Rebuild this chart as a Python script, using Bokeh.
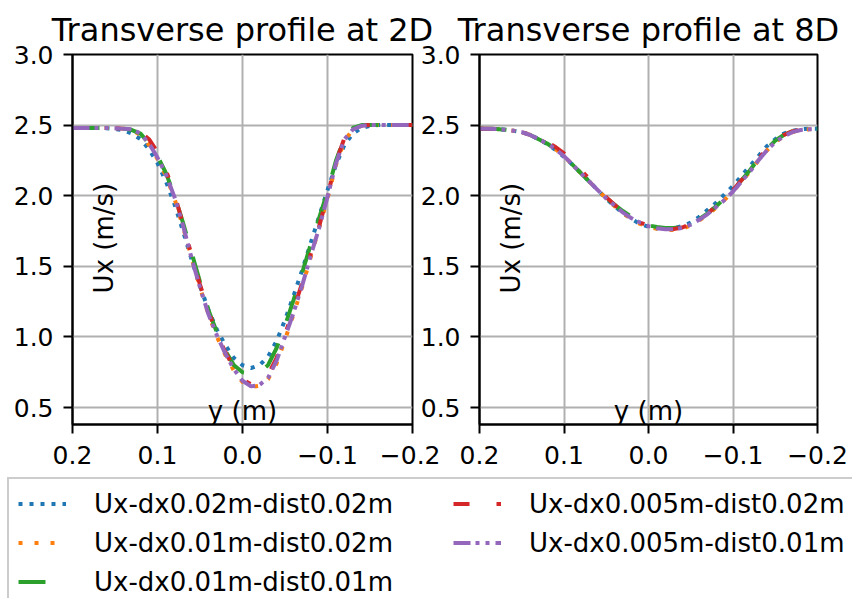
import math
from bokeh.plotting import figure
from bokeh.layouts import column, row
from bokeh.models import (Range1d, FixedTicker, Label, Legend, LegendItem,
                          NumeralTickFormatter)
from bokeh.embed import file_html
from bokeh.resources import INLINE

# ---------------- data ----------------
y_pos = [0.20, 0.19, 0.18, 0.17, 0.16, 0.15, 0.14, 0.13, 0.12, 0.11, 0.10,
         0.09, 0.08, 0.07, 0.06, 0.05, 0.04, 0.03, 0.02, 0.01, 0.00,
         -0.01, -0.02, -0.03, -0.04, -0.05, -0.06, -0.07, -0.08, -0.09, -0.10,
         -0.11, -0.12, -0.13, -0.14, -0.15, -0.16, -0.17, -0.18, -0.19, -0.20]

labels = ["Ux-dx0.02m-dist0.02m", "Ux-dx0.01m-dist0.02m", "Ux-dx0.01m-dist0.01m",
          "Ux-dx0.005m-dist0.02m", "Ux-dx0.005m-dist0.01m"]

# profile at 2D
ux2d_dx002_d002 = [2.48, 2.48, 2.48, 2.48, 2.478, 2.472, 2.465, 2.44, 2.40, 2.33, 2.23,
                   2.10, 1.94, 1.75, 1.55, 1.36, 1.19, 1.05, 0.94, 0.85, 0.80,
                   0.78, 0.80, 0.86, 0.97, 1.12, 1.29, 1.47, 1.66, 1.85, 2.04,
                   2.22, 2.36, 2.44, 2.48, 2.495, 2.50, 2.50, 2.50, 2.50, 2.50]
ux2d_dx001_d002 = [2.48, 2.48, 2.48, 2.48, 2.48, 2.478, 2.475, 2.465, 2.43, 2.36, 2.26,
                   2.14, 1.98, 1.78, 1.56, 1.35, 1.16, 1.00, 0.87, 0.76, 0.68,
                   0.645, 0.655, 0.70, 0.81, 0.98, 1.16, 1.35, 1.56, 1.77, 1.98,
                   2.22, 2.39, 2.47, 2.495, 2.50, 2.50, 2.50, 2.50, 2.50, 2.50]
ux2d_dx001_d001 = [2.48, 2.48, 2.48, 2.48, 2.48, 2.478, 2.475, 2.465, 2.44, 2.37, 2.28,
                   2.16, 2.00, 1.81, 1.60, 1.39, 1.19, 1.03, 0.90, 0.80, 0.75,
                   0.74, 0.75, 0.80, 0.92, 1.08, 1.26, 1.45, 1.65, 1.84, 2.03,
                   2.25, 2.41, 2.48, 2.50, 2.50, 2.50, 2.50, 2.50, 2.50, 2.50]
ux2d_dx0005_d002 = [2.48, 2.48, 2.48, 2.48, 2.48, 2.478, 2.475, 2.47, 2.45, 2.40, 2.31,
                    2.18, 2.01, 1.80, 1.58, 1.37, 1.18, 1.02, 0.89, 0.78, 0.70,
                    0.665, 0.68, 0.73, 0.85, 1.02, 1.19, 1.38, 1.58, 1.78, 2.00,
                    2.24, 2.41, 2.475, 2.497, 2.50, 2.50, 2.50, 2.50, 2.50, 2.50]
ux2d_dx0005_d001 = [2.48, 2.48, 2.48, 2.48, 2.48, 2.478, 2.475, 2.47, 2.44, 2.37, 2.27,
                    2.15, 1.99, 1.79, 1.56, 1.35, 1.16, 1.01, 0.88, 0.77, 0.69,
                    0.65, 0.66, 0.71, 0.83, 1.00, 1.17, 1.36, 1.57, 1.77, 1.99,
                    2.23, 2.40, 2.47, 2.495, 2.50, 2.50, 2.50, 2.50, 2.50, 2.50]

# profile at 8D
ux8d_dx002_d002 = [2.475, 2.475, 2.472, 2.468, 2.46, 2.45, 2.43, 2.40, 2.365, 2.325, 2.275,
                   2.22, 2.16, 2.10, 2.04, 1.98, 1.925, 1.875, 1.835, 1.80, 1.78,
                   1.77, 1.765, 1.77, 1.785, 1.81, 1.85, 1.90, 1.95, 2.01, 2.07,
                   2.14, 2.21, 2.28, 2.35, 2.40, 2.44, 2.46, 2.47, 2.475, 2.475]
ux8d_dx001_d002 = [2.475, 2.475, 2.472, 2.468, 2.46, 2.45, 2.43, 2.40, 2.37, 2.33, 2.28,
                   2.22, 2.16, 2.10, 2.04, 1.98, 1.925, 1.875, 1.835, 1.80, 1.78,
                   1.765, 1.757, 1.757, 1.767, 1.79, 1.825, 1.865, 1.915, 1.97, 2.03,
                   2.10, 2.17, 2.25, 2.32, 2.38, 2.42, 2.45, 2.465, 2.47, 2.47]
ux8d_dx001_d001 = [2.475, 2.475, 2.472, 2.468, 2.46, 2.45, 2.43, 2.40, 2.37, 2.33, 2.28,
                   2.22, 2.16, 2.10, 2.04, 1.985, 1.935, 1.89, 1.85, 1.815, 1.79,
                   1.778, 1.772, 1.772, 1.78, 1.80, 1.835, 1.875, 1.925, 1.98, 2.04,
                   2.11, 2.18, 2.26, 2.33, 2.39, 2.43, 2.455, 2.468, 2.472, 2.472]
ux8d_dx0005_d002 = [2.475, 2.475, 2.472, 2.468, 2.46, 2.45, 2.432, 2.41, 2.38, 2.345, 2.30,
                    2.24, 2.18, 2.12, 2.055, 1.99, 1.935, 1.885, 1.843, 1.81, 1.787,
                    1.77, 1.763, 1.764, 1.775, 1.80, 1.835, 1.875, 1.925, 1.98, 2.04,
                    2.11, 2.18, 2.26, 2.33, 2.39, 2.43, 2.455, 2.467, 2.47, 2.47]
ux8d_dx0005_d001 = [2.475, 2.475, 2.472, 2.468, 2.46, 2.45, 2.43, 2.40, 2.37, 2.33, 2.28,
                    2.22, 2.16, 2.10, 2.04, 1.98, 1.93, 1.88, 1.84, 1.81, 1.785,
                    1.77, 1.762, 1.762, 1.772, 1.795, 1.83, 1.87, 1.92, 1.97, 2.03,
                    2.10, 2.17, 2.25, 2.32, 2.38, 2.42, 2.45, 2.465, 2.47, 2.47]

series_2d = [ux2d_dx002_d002, ux2d_dx001_d002, ux2d_dx001_d001, ux2d_dx0005_d002, ux2d_dx0005_d001]
series_8d = [ux8d_dx002_d002, ux8d_dx001_d002, ux8d_dx001_d001, ux8d_dx0005_d002, ux8d_dx0005_d001]

x_ticks = [0.2, 0.1, 0.0, -0.1, -0.2]
x_tick_labels = ["0.2", "0.1", "0.0", "\u22120.1", "\u22120.2"]
y_ticks = [0.5, 1.0, 1.5, 2.0, 2.5, 3.0]

# ---------------- styles ----------------
colors = ["#1f77b4", "#ff7f0e", "#2ca02c", "#d62728", "#9467bd"]
dashes = ["4 7", "4 12", "27 24", "16 27 5 27", "17 5 4 6 4 6"]
FONT = "DejaVu Sans"
LW = 4


def make_panel(title, series, width, mb_left, mb_right, frame_w, extra=None):
    kw = dict(extra or {})
    p = figure(width=width, height=477, title=title,
               x_range=Range1d(0.2, -0.2), y_range=Range1d(0.38, 3.0),
               output_backend="svg", toolbar_location=None,
               min_border_left=mb_left, min_border_right=mb_right,
               min_border_top=54, min_border_bottom=53, **kw)
    p.title.text_font = FONT
    p.title.text_font_size = "32px"
    p.title.text_font_style = "normal"
    p.title.align = "center"
    p.title.standoff = 12
    p.title.text_color = "black"

    p.xaxis.ticker = FixedTicker(ticks=x_ticks)
    p.xaxis.major_label_overrides = {t: l for t, l in zip(x_ticks, x_tick_labels)}
    p.yaxis.ticker = FixedTicker(ticks=y_ticks)
    p.yaxis.formatter = NumeralTickFormatter(format="0.0")
    for ax in (p.xaxis, p.yaxis):
        ax.axis_line_width = 2
        ax.axis_line_color = "black"
        ax.major_tick_line_width = 2
        ax.major_tick_line_color = "black"
        ax.major_tick_out = 9
        ax.major_tick_in = 0
        ax.minor_tick_out = 0
        ax.minor_tick_in = 0
        ax.major_label_text_font = FONT
        ax.major_label_text_font_size = "25px"
        ax.major_label_text_color = "black"
    p.xaxis.major_label_standoff = 12
    p.yaxis.major_label_standoff = 10

    p.grid.grid_line_color = "#b0b0b0"
    p.grid.grid_line_width = 2
    p.outline_line_color = "black"
    p.outline_line_width = 2
    p.outline_line_alpha = 1.0

    for vals, c, d in zip(series, colors, dashes):
        p.line(y_pos, vals, line_color=c, line_width=LW, line_dash=d)

    ux_x = 0.2 - 31 * 0.4 / frame_w
    p.add_layout(Label(x=ux_x, y=1.70, text="Ux (m/s)", angle=math.pi / 2,
                       text_align="center", text_baseline="alphabetic",
                       text_font=FONT, text_font_size="26px", text_color="black"))
    p.add_layout(Label(x=0.0, y=0.475, text="y (m)",
                       text_align="center", text_baseline="alphabetic",
                       text_font=FONT, text_font_size="26px", text_color="black"))
    return p


p1 = make_panel("Transverse profile at 2D", series_2d, 440, 72, 28, 340)
p2 = make_panel("Transverse profile at 8D", series_8d, 436, 63, 35, 338,
                extra=dict(margin=(0, 0, 0, -24)))
p2.border_fill_color = None

# legend panel (its line renderers lie outside its own view; only the legend shows)
leg = figure(width=852, height=121, x_axis_type=None, y_axis_type=None,
             x_range=Range1d(10, 11), y_range=Range1d(10, 11),
             output_backend="svg", toolbar_location=None,
             min_border_left=7, min_border_right=0, min_border_top=0, min_border_bottom=0)
leg.outline_line_color = None
leg.grid.visible = False
items = []
for lab, vals, c, d in zip(labels, series_2d, colors, dashes):
    r = leg.line(y_pos, vals, line_color=c, line_width=LW, line_dash=d)
    items.append(LegendItem(label=lab, renderers=[r]))
legend = Legend(items=items, location="top_left", orientation="vertical", ncols=2,
                label_text_font=FONT, label_text_font_size="26px", label_text_color="black",
                glyph_width=48, glyph_height=31, label_standoff=28, label_width=351,
                label_height=31, spacing=8, padding=9, margin=0,
                border_line_color="#cccccc", border_line_width=2, border_line_alpha=1.0,
                background_fill_color="white", background_fill_alpha=1.0)
leg.add_layout(legend)

layout = column(row(p1, p2), leg)

open("out.html", "w").write(file_html(layout, INLINE))
